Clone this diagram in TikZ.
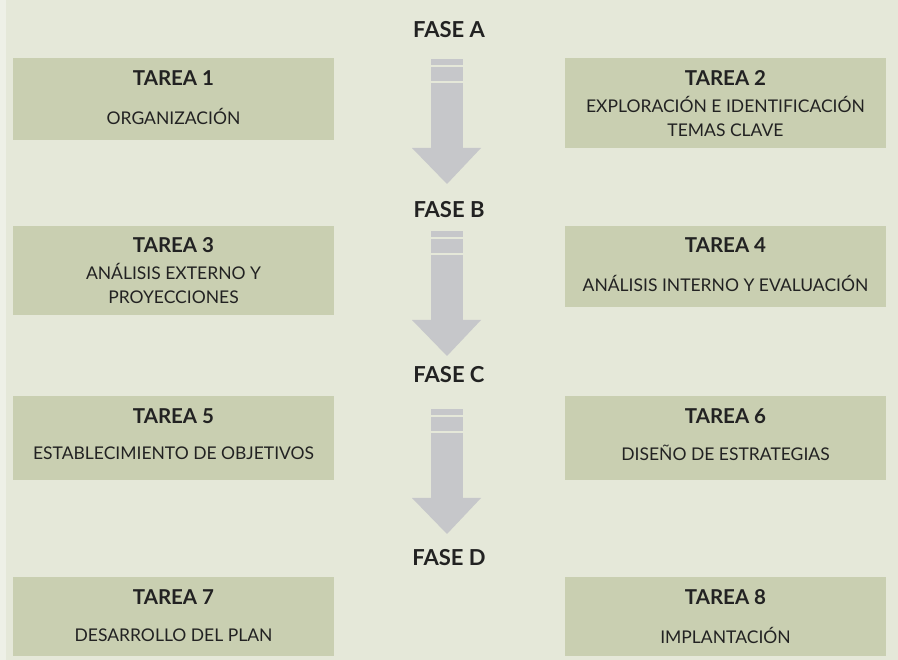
\documentclass[tikz,border=0pt]{standalone}
\usepackage{fontspec}
\setmainfont{Lato}
\definecolor{fondo}{HTML}{E5E8D9}
\definecolor{borde}{HTML}{EEF0E7}
\definecolor{cajaverde}{HTML}{C9CFB1}
\definecolor{flechagris}{HTML}{C6C7CA}
\definecolor{textooscuro}{HTML}{222222}
\tikzset{
  tarea/.style={fill=cajaverde, draw=none, inner sep=0pt, anchor=north west},
  titulo/.style={font=\bfseries\fontsize{20.5}{22}\selectfont, text=textooscuro},
  cuerpo/.style={font=\fontsize{17.5}{20}\selectfont, text=textooscuro},
  fase/.style={font=\bfseries\fontsize{22}{24}\selectfont, text=textooscuro}
}
\begin{document}
\begin{tikzpicture}[x=1pt,y=-1pt]
\useasboundingbox (0,0) rectangle (898,660);
\fill[fondo] (0,0) rectangle (898,660);
\fill[borde] (0,0) rectangle (6,660);
% fases
\node[fase] (faseA) at (449,30) {FASE A};
\node[fase] (faseB) at (449,210) {FASE B};
\node[fase] (faseC) at (449,375) {FASE C};
\node[fase] (faseD) at (449,558) {FASE D};
% flechas entre fases
\foreach \y in {59,231,409}
{
\fill[flechagris] (431,\y) rectangle (463,\y+6);
\fill[flechagris] (431,\y+8) rectangle (463,\y+22);
\fill[flechagris] (431,\y+24) rectangle (463,\y+90);
\fill[flechagris] (412,\y+89) -- (481,\y+89) -- (447,\y+125) -- cycle;
}
% fase A
\node[tarea, minimum width=321pt, minimum height=82pt] (t1) at (13,58) {};
\node[titulo] (t1a) at (173.5,78) {TAREA 1};
\node[cuerpo] (t1b) at (173.5,116) {ORGANIZACIÓN};
\node[tarea, minimum width=321pt, minimum height=90pt] (t2) at (565,58) {};
\node[titulo] (t2a) at (725.5,78) {TAREA 2};
\node[cuerpo] (t2b) at (725.5,104) {EXPLORACIÓN E IDENTIFICACIÓN};
\node[cuerpo] (t2c) at (725.5,130) {TEMAS CLAVE};
% fase B
\node[tarea, minimum width=321pt, minimum height=89pt] (t3) at (13,226) {};
\node[titulo] (t3a) at (173.5,245) {TAREA 3};
\node[cuerpo] (t3b) at (173.5,271) {ANÁLISIS EXTERNO Y};
\node[cuerpo] (t3c) at (173.5,297) {PROYECCIONES};
\node[tarea, minimum width=321pt, minimum height=81pt] (t4) at (565,226) {};
\node[titulo] (t4a) at (725.5,245) {TAREA 4};
\node[cuerpo] (t4b) at (725.5,283) {ANÁLISIS INTERNO Y EVALUACIÓN};
% fase C
\node[tarea, minimum width=321pt, minimum height=84pt] (t5) at (13,396) {};
\node[titulo] (t5a) at (173.5,416) {TAREA 5};
\node[cuerpo] (t5b) at (173.5,453) {ESTABLECIMIENTO DE OBJETIVOS};
\node[tarea, minimum width=321pt, minimum height=84pt] (t6) at (565,396) {};
\node[titulo] (t6a) at (725.5,416) {TAREA 6};
\node[cuerpo] (t6b) at (725.5,453) {DISEÑO DE ESTRATEGIAS};
% fase D
\node[tarea, minimum width=321pt, minimum height=79pt] (t7) at (13,577) {};
\node[titulo] (t7a) at (173.5,597) {TAREA 7};
\node[cuerpo] (t7b) at (173.5,635) {DESARROLLO DEL PLAN};
\node[tarea, minimum width=321pt, minimum height=79pt] (t8) at (565,577) {};
\node[titulo] (t8a) at (725.5,597) {TAREA 8};
\node[cuerpo] (t8b) at (725.5,635) {IMPLANTACIÓN};
\end{tikzpicture}
\end{document}
